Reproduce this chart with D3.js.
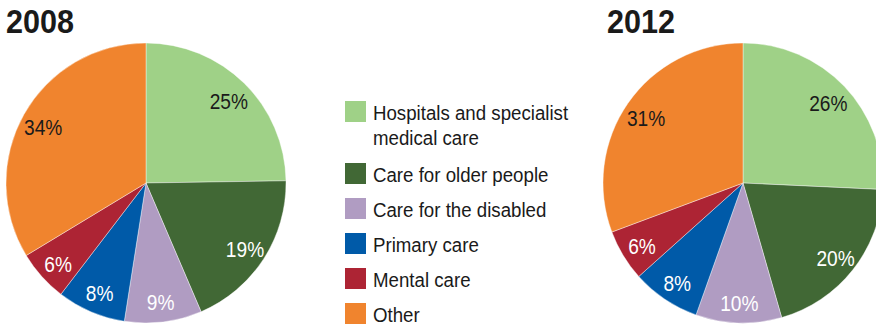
<!DOCTYPE html>
<meta charset="utf-8">
<head>
<style>
body { margin: 0; background: #fff; }
svg { display: block; }
.title, .lbl, .legend text { font-family: "Liberation Sans", Arial, sans-serif; }
.title { font-weight: bold; font-size: 34px; fill: #1a1a1a; }
.lbl { font-size: 22px; }
.legend text { font-size: 21px; fill: #1a1a1a; }
</style>
</head>
<body>
<script src="https://cdn.jsdelivr.net/npm/d3@7"></script>
<script>

var categories = ["Hospitals and specialist|medical care", "Care for older people",
                  "Care for the disabled", "Primary care", "Mental care", "Other"];
var colors = ["#9fd187", "#416835", "#b09cc2", "#005aa8", "#ad2434", "#f0842e"];
var labelColors = ["#1a1a1a", "#fff", "#fff", "#fff", "#fff", "#1a1a1a"];
var years = ["2008", "2012"];
var values2008 = [25, 19, 9, 8, 6, 34];
var values2012 = [26, 20, 10, 8, 6, 31];

var width = 876, height = 325,
    radius = 140;

// no condensed face installed, so squeeze the regular one
var narrow = 0.87;

var svg = d3.select("body").append("svg")
    .attr("width", width)
    .attr("height", height);

var pie = d3.pie().sort(null);
var arc = d3.arc().innerRadius(0).outerRadius(radius);
var labelArc = d3.arc().innerRadius(118).outerRadius(118);

var charts = [
  {year: years[0], values: values2008, cx: 146, tx: 6},
  {year: years[1], values: values2012, cx: 743, tx: 607}
];

charts.forEach(function(c) {
  svg.append("text")
      .attr("class", "title")
      .attr("transform", "translate(" + c.tx + ",33) scale(0.9,1)")
      .text(c.year);

  var g = svg.append("g")
      .attr("transform", "translate(" + c.cx + ",183)");

  var arcs = pie(c.values);

  g.selectAll("path")
      .data(arcs)
    .enter().append("path")
      .attr("d", arc)
      .attr("fill", function(d, i) { return colors[i]; })
      .attr("stroke", "#fff")
      .attr("stroke-width", 0.4);

  // labels sit a little below the centroid ring
  g.selectAll("text")
      .data(arcs)
    .enter().append("text")
      .attr("class", "lbl")
      .attr("transform", function(d) {
        var p = labelArc.centroid(d);
        return "translate(" + p[0] + "," + (p[1] + 2) + ") scale(" + narrow + ",1)";
      })
      .attr("text-anchor", "middle")
      .attr("dy", "0.36em")
      .attr("fill", function(d, i) { return labelColors[i]; })
      .text(function(d) { return d.data + "%"; });
});

// legend
var rowY = [101, 163, 198, 233, 268, 303];
var legend = svg.append("g").attr("class", "legend");

categories.forEach(function(name, i) {
  legend.append("rect")
      .attr("x", 345)
      .attr("y", rowY[i])
      .attr("width", 21)
      .attr("height", 21)
      .attr("fill", colors[i]);

  var t = legend.append("text")
      .attr("transform", "translate(373," + (rowY[i] + 19) + ") scale(0.89,1)");
  name.split("|").forEach(function(line, j) {
    t.append("tspan")
        .attr("x", 0)
        .attr("dy", j ? 25 : 0)
        .text(line);
  });
});

</script>
</body>
